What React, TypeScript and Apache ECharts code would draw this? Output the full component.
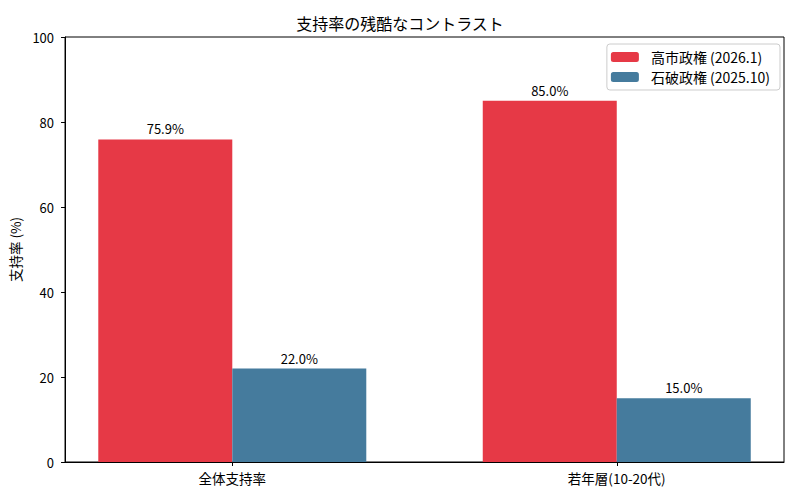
import React, { useEffect, useRef } from "react";
import * as echarts from "echarts";

const categories = ["全体支持率", "若年層(10-20代)"];
const seriesNames = ["高市政権 (2026.1)", "石破政権 (2025.10)"];
const takaichiValues = [75.9, 85.0];
const ishibaValues = [22.0, 15.0];
const yTicks = [0, 20, 40, 60, 80, 100];

const FONT = "Noto Sans CJK JP";

export default function App() {
  const ref = useRef<HTMLDivElement>(null);
  useEffect(() => {
    if (!ref.current) return;
    const chart = echarts.init(ref.current, undefined, { renderer: "svg" });
    const toData = (vals: number[]) => vals.map((v, i) => [i, v]);
    const label = {
      show: true,
      position: "top",
      distance: 4,
      color: "#000",
      fontSize: 13,
      fontFamily: FONT,
      formatter: (p: any) => Number(p.value[1]).toFixed(1) + "%",
    };
    chart.setOption({
      animation: false,
      backgroundColor: "#fff",
      textStyle: { fontFamily: FONT },
      title: {
        text: "支持率の残酷なコントラスト",
        left: "center",
        top: 10,
        textStyle: { fontSize: 16, fontWeight: "normal", color: "#000", fontFamily: FONT },
      },
      legend: {
        orient: "vertical",
        right: 20,
        top: 44,
        itemWidth: 28,
        itemHeight: 10,
        itemGap: 6,
        padding: [6, 10, 6, 4],
        backgroundColor: "#fff",
        borderColor: "#ccc",
        borderWidth: 1,
        borderRadius: 3,
        textStyle: { fontSize: 14, color: "#000", fontFamily: FONT, padding: [0, 0, 0, 7] },
        data: seriesNames,
      },
      grid: {
        left: 65,
        right: 16,
        top: 37,
        bottom: 38,
        show: true,
        borderColor: "#000",
        borderWidth: 1,
        backgroundColor: "transparent",
      },
      xAxis: {
        type: "value",
        min: -0.435,
        max: 1.435,
        splitLine: { show: false },
        axisLine: { show: true, onZero: false, lineStyle: { color: "#000" } },
        axisTick: { show: true, length: 4, customValues: [0, 1], lineStyle: { color: "#000" } },
        axisLabel: {
          customValues: [0, 1],
          color: "#000",
          fontSize: 13.5,
          fontFamily: FONT,
          margin: 9,
          formatter: (v: number) => categories[Math.round(v)] ?? "",
        },
      },
      yAxis: {
        type: "value",
        min: 0,
        max: 100,
        interval: 20,
        name: "支持率 (%)",
        nameLocation: "middle",
        nameGap: 35,
        nameRotate: 90,
        nameTextStyle: { fontSize: 13.5, color: "#000", fontFamily: FONT },
        splitLine: { show: false },
        axisLine: { show: true, onZero: false, lineStyle: { color: "#000" } },
        axisTick: { show: true, length: 4, lineStyle: { color: "#000" } },
        axisLabel: { color: "#000", fontSize: 13, fontFamily: FONT, margin: 11, customValues: yTicks },
      },
      series: [
        {
          name: seriesNames[0],
          type: "bar",
          data: toData(takaichiValues),
          barWidth: 134,
          barGap: "0%",
          itemStyle: { color: "#E63946" },
          label,
        },
        {
          name: seriesNames[1],
          type: "bar",
          data: toData(ishibaValues),
          barWidth: 134,
          barGap: "0%",
          itemStyle: { color: "#457B9D" },
          label,
        },
      ],
    });
    return () => chart.dispose();
  }, []);
  return (
    <div
      ref={ref}
      style={{ position: "fixed", left: 0, top: 0, width: 800, height: 500 }}
    />
  );
}
